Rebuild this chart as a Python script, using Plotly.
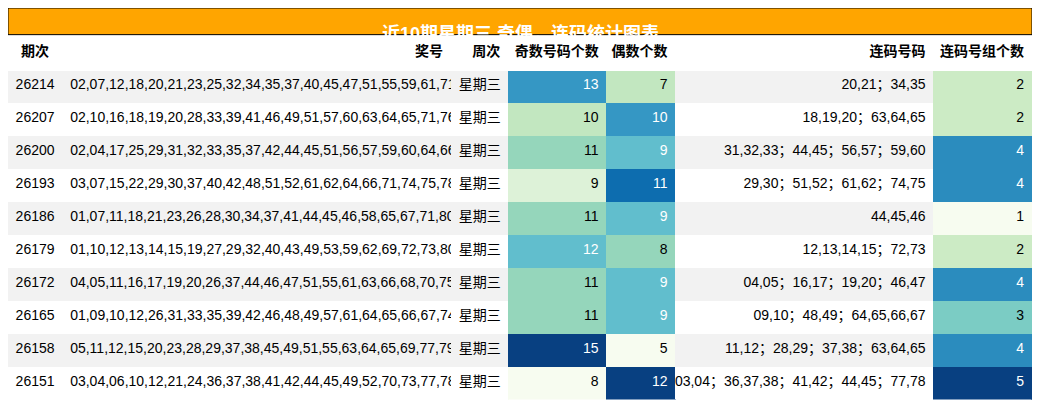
import plotly.graph_objects as go
from plotly.colors import sample_colorscale

title = "近10期星期三 奇偶，连码统计图表"
issues = ["26214", "26207", "26200", "26193", "26186", "26179", "26172", "26165", "26158", "26151"]
numbers = [
    "02,07,12,18,20,21,23,25,32,34,35,37,40,45,47,51,55,59,61,71",
    "02,10,16,18,19,20,28,33,39,41,46,49,51,57,60,63,64,65,71,76",
    "02,04,17,25,29,31,32,33,35,37,42,44,45,51,56,57,59,60,64,66",
    "03,07,15,22,29,30,37,40,42,48,51,52,61,62,64,66,71,74,75,78",
    "01,07,11,18,21,23,26,28,30,34,37,41,44,45,46,58,65,67,71,80",
    "01,10,12,13,14,15,19,27,29,32,40,43,49,53,59,62,69,72,73,80",
    "04,05,11,16,17,19,20,26,37,44,46,47,51,55,61,63,66,68,70,75",
    "01,09,10,12,26,31,33,35,39,42,46,48,49,57,61,64,65,66,67,74",
    "05,11,12,15,20,23,28,29,37,38,45,49,51,55,63,64,65,69,77,79",
    "03,04,06,10,12,21,24,36,37,38,41,42,44,45,49,52,70,73,77,78",
]
weekday = ["星期三"] * 10
odd_count = [13, 10, 11, 9, 11, 12, 11, 11, 15, 8]
even_count = [7, 10, 9, 11, 9, 8, 9, 9, 5, 12]
runs = [
    "20,21；34,35", "18,19,20；63,64,65", "31,32,33；44,45；56,57；59,60",
    "29,30；51,52；61,62；74,75", "44,45,46", "12,13,14,15；72,73",
    "04,05；16,17；19,20；46,47", "09,10；48,49；64,65,66,67",
    "11,12；28,29；37,38；63,64,65", "03,04；36,37,38；41,42；44,45；77,78",
]
run_groups = [2, 2, 4, 4, 1, 2, 4, 3, 4, 5]
headers = ["期次", "奖号", "周次", "奇数号码个数", "偶数个数", "连码号码", "连码号组个数"]

stripe = ["#f2f2f2" if i % 2 == 0 else "#ffffff" for i in range(10)]
FONT = "Liberation Sans, Arial, Noto Sans CJK SC"


def heat(vals):
    lo, hi = min(vals), max(vals)
    ts = [(v - lo) / (hi - lo) for v in vals]
    fills = sample_colorscale("GnBu", ts)
    fonts = ["white" if t > 0.55 else "black" for t in ts]
    return fills, fonts


odd_fill, odd_font = heat(odd_count)
even_fill, even_font = heat(even_count)
grp_fill, grp_font = heat(run_groups)

fig = go.Figure(go.Table(
    columnwidth=[55, 395, 58, 100, 70, 262, 100],
    header=dict(
        values=["<b>%s</b>" % h for h in headers],
        fill_color="white", line_color="white",
        align=["center", "right", "right", "right", "right", "right", "right"],
        font=dict(size=14, color="black", family=FONT),
        height=35,
    ),
    cells=dict(
        values=[issues, numbers, weekday, odd_count, even_count, runs, run_groups],
        fill_color=[stripe, stripe, stripe, odd_fill, even_fill, stripe, grp_fill],
        line_color=[stripe, stripe, stripe, odd_fill, even_fill, stripe, grp_fill],
        align=["center", "left", "center", "right", "right", "right", "right"],
        font=dict(size=14, family=FONT,
                  color=[["black"] * 10, ["black"] * 10, ["black"] * 10,
                         odd_font, even_font, ["black"] * 10, grp_font]),
        height=33,
    ),
    domain=dict(x=[0, 1], y=[0, 0.93]),
))

fig.add_shape(type="rect", xref="paper", yref="paper", x0=0, x1=1, y0=0.932, y1=1,
              fillcolor="#ffa500", line=dict(color="black", width=1), layer="above")
fig.add_annotation(text="<b>%s</b>" % title, xref="paper", yref="paper", x=0.5, y=0.966,
                   showarrow=False, font=dict(size=18, color="white", family=FONT))

fig.update_layout(width=1024, height=392, margin=dict(l=0, r=0, t=0, b=0),
                  paper_bgcolor="white")
fig.write_html("out.html")
